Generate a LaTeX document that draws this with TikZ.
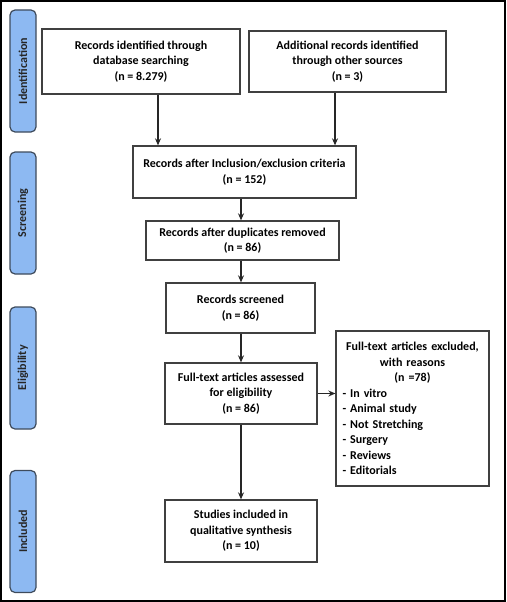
\documentclass[tikz,border=0pt]{standalone}
\usepackage{fontspec}
\setmainfont{Carlito}
\usetikzlibrary{arrows.meta}
\definecolor{tabfill}{HTML}{8DB9F2}
\definecolor{tabline}{HTML}{3E4B5C}
\definecolor{boxline}{HTML}{404040}
\tikzset{
  box/.style={draw=boxline, line width=1.3pt, fill=white, inner sep=0pt, align=center,
    font=\bfseries\fontsize{12}{15.5}\selectfont},
  tab/.style={draw=tabline, fill=tabfill, line width=1.2pt, rounded corners=5pt,
    minimum width=26pt, minimum height=122pt, inner sep=0pt},
  tabtext/.style={rotate=90, font=\bfseries\fontsize{12}{14}\selectfont, text=black!85},
  arr/.style={line width=1.3pt, draw=black!85, -{Stealth[length=7pt,width=6pt]}}
}
\begin{document}
\begin{tikzpicture}[x=1pt,y=-1pt]
\useasboundingbox (0,0) rectangle (506,602);
\draw[line width=2pt] (1,1) rectangle (505,601);
% side tabs
\node[tab] (t1) at (23,71) {};
\node[tabtext] at (t1) {Identification};
\node[tab] (t2) at (23,213) {};
\node[tabtext] at (t2) {Screening};
\node[tab] (t3) at (23,368) {};
\node[tabtext] at (t3) {Eligibility};
\node[tab] (t4) at (23,531.5) {};
\node[tabtext] at (t4) {Included};
% boxes
\node[box, minimum width=198pt, minimum height=65pt] (b1) at (141,61.5)
  {Records identified through\\database searching\\(n = 8.279)};
\node[box, minimum width=197pt, minimum height=61pt] (b2) at (347.5,61.5)
  {Additional records identified\\through other sources\\(n = 3)};
\node[box, minimum width=223pt, minimum height=52pt] (b3) at (244.5,172)
  {Records after Inclusion/exclusion criteria\\(n = 152)};
\node[box, minimum width=193pt, minimum height=39pt] (b4) at (242.5,240.5)
  {Records after duplicates removed\\(n = 86)};
\node[box, minimum width=149pt, minimum height=50pt] (b5) at (240.5,308)
  {Records screened\\(n = 86)};
\node[box, minimum width=152pt, minimum height=61pt] (b6) at (241,393.5)
  {Full-text articles assessed\\for eligibility\\(n = 86)};
\node[box, minimum width=153pt, minimum height=155pt, text width=140pt, align=left] (b7) at (412.5,408.5)
  {\centering Full-text articles excluded,\\with reasons\\(n =78)\par
   \raggedright - In vitro\\- Animal study\\- Not Stretching\\- Surgery\\- Reviews\\- Editorials\par};
\node[box, minimum width=152pt, minimum height=62pt] (b8) at (241,531)
  {Studies included in\\qualitative synthesis\\(n = 10)};
% connectors
\coordinate (xa) at (158,0);
\coordinate (xb) at (335,0);
\coordinate (xc) at (241,0);
\draw[arr] (b1.south -| xa) -- (b3.north -| xa);
\draw[arr] (b2.south -| xb) -- (b3.north -| xb);
\draw[arr] (b3.south -| xc) -- (b4.north -| xc);
\draw[arr] (b4.south -| xc) -- (b5.north -| xc);
\draw[arr] (b5.south -| xc) -- (b6.north -| xc);
\draw[arr] (b6.south -| xc) -- (b8.north -| xc);
\draw[arr] (b6.east) -- (b6.east -| b7.west);
\end{tikzpicture}
\end{document}
